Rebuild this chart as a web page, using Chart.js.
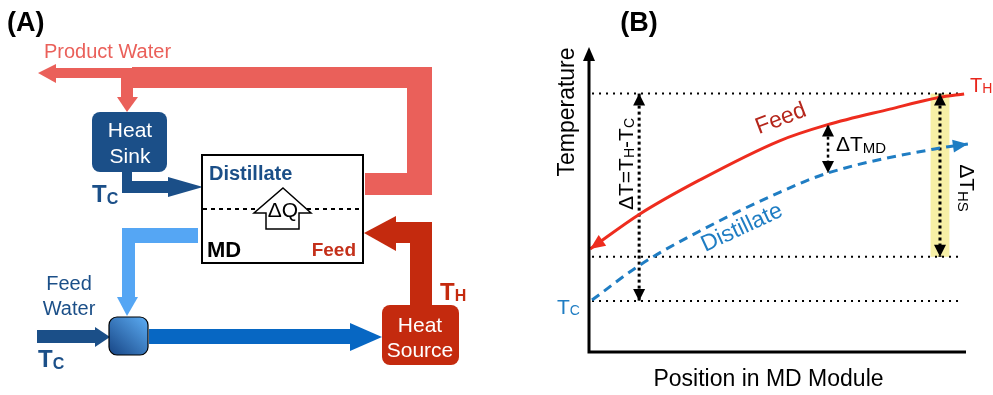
<html>
<head>
<meta charset="utf-8" />
<script src="https://cdn.jsdelivr.net/npm/chart.js@4.4.0/dist/chart.umd.min.js"></script>
<title>MD temperature profile</title>
<style>body { margin: 0; background: #fff; }</style>
</head>
<body>
<canvas id="chart" width="993" height="395"></canvas>
<script>
// position along the MD module (0..100) and temperature (0..100, arbitrary units)
const feedPos = [0.3, 13.5, 29.4, 50.4, 63.1, 79.8, 92.8, 99.5];
const feedTemp = [33.9, 45.4, 56.6, 69.4, 74.7, 79.9, 83.7, 84.9];
const distPos = [0.8, 13.5, 29.4, 50.7, 63.4, 93.1, 100.5];
const distTemp = [17.1, 28.6, 39.8, 52.6, 58.9, 67.1, 68.4];

// reference levels (dotted lines)
const levelTH = 85;
const levelFeedOut = 31.3;
const levelTC = 16.8;
const levelSpan = [0.8, 99.2];

// vertical difference markers
const dTPos = 13.3;
const dTmdPos = 63.4;
const dTmd = [74.8, 58.9];
const dThsPos = 93.1;

const RED = "#ee2c1e", BLUE = "#1f7dc3";
const FONT = "'Liberation Sans', Arial, sans-serif";

function pts(xs, ys) { return xs.map((x, i) => ({ x: x, y: ys[i] })); }
function hline(v) { return [{ x: levelSpan[0], y: v }, { x: levelSpan[1], y: v }]; }
function vline(x, a, b) { return [{ x: x, y: a }, { x: x, y: b }]; }

// text with subscripts: parts = [text, font, dy]
function subText(ctx, x, y, parts, align) {
    let w = 0;
    parts.forEach(p => { ctx.font = p[1]; w += ctx.measureText(p[0]).width; });
    let cx = align == "center" ? x - w / 2 : (align == "right" ? x - w : x);
    ctx.textAlign = "left";
    parts.forEach(p => {
        ctx.font = p[1];
        ctx.fillText(p[0], cx, y + (p[2] || 0));
        cx += ctx.measureText(p[0]).width;
    });
}

function tri(ctx, a, b, c, col) {
    ctx.fillStyle = col;
    ctx.beginPath(); ctx.moveTo(a[0], a[1]); ctx.lineTo(b[0], b[1]); ctx.lineTo(c[0], c[1]); ctx.closePath(); ctx.fill();
}

function rrect(ctx, x, y, w, h, r, col) {
    ctx.fillStyle = col;
    ctx.beginPath(); ctx.roundRect(x, y, w, h, r); ctx.fill();
}

function arrowHead(ctx, tx, ty, ang, len, half, col) {
    let bx = tx - Math.cos(ang) * len, by = ty - Math.sin(ang) * len;
    let nx = -Math.sin(ang) * half, ny = Math.cos(ang) * half;
    tri(ctx, [tx, ty], [bx + nx, by + ny], [bx - nx, by - ny], col);
}

// panel (A): process schematic
function drawSchematic(ctx) {
    const salmon = "#ea605a", dblue = "#1b4f88", dred = "#c42a0e", lblue = "#55a6f4", mblue = "#0767c3";
    ctx.save();
    ctx.textBaseline = "alphabetic";
    ctx.fillStyle = "#000";
    ctx.font = "bold 27px " + FONT;
    ctx.textAlign = "left";
    ctx.fillText("(A)", 7, 31);

    ctx.fillStyle = salmon;
    ctx.font = "20px " + FONT;
    ctx.fillText("Product Water", 44, 58);
    ctx.fillRect(54, 68, 80, 10);
    ctx.fillRect(132, 67, 300, 21);
    tri(ctx, [38, 73], [56, 64], [56, 83], salmon);
    ctx.fillRect(407, 67, 25, 128);
    ctx.fillRect(365, 173, 67, 22);
    ctx.fillRect(121, 77, 12, 21);
    tri(ctx, [117, 97], [138, 97], [127, 112], salmon);

    // heat sink
    rrect(ctx, 92, 112, 75, 60, 8, dblue);
    ctx.fillStyle = "#fff";
    ctx.font = "21px " + FONT;
    ctx.textAlign = "center";
    ctx.fillText("Heat", 130, 137);
    ctx.fillText("Sink", 130, 163);
    ctx.fillStyle = dblue;
    ctx.fillRect(122, 171, 10, 22);
    ctx.fillRect(122, 181, 48, 12);
    tri(ctx, [168, 177], [168, 197], [203, 187], dblue);
    subText(ctx, 92, 202, [["T", "bold 24px " + FONT], ["C", "bold 16px " + FONT, 2]], "left");

    // MD module
    ctx.strokeStyle = "#000";
    ctx.lineWidth = 2;
    ctx.strokeRect(202, 155, 161, 108);
    ctx.save();
    ctx.setLineDash([4, 4]);
    ctx.beginPath(); ctx.moveTo(203, 209); ctx.lineTo(362, 209); ctx.stroke();
    ctx.restore();
    ctx.fillStyle = "#fff";
    ctx.lineWidth = 1.5;
    ctx.beginPath();
    [[283, 188], [311, 213], [299, 213], [299, 229], [266, 229], [266, 213], [254, 213]].forEach((p, i) => i ? ctx.lineTo(p[0], p[1]) : ctx.moveTo(p[0], p[1]));
    ctx.closePath(); ctx.fill(); ctx.stroke();
    ctx.fillStyle = "#000";
    ctx.font = "21px " + FONT;
    ctx.textAlign = "center";
    ctx.fillText("\u0394Q", 283, 217);
    ctx.textAlign = "left";
    ctx.fillStyle = dblue;
    ctx.font = "bold 20px " + FONT;
    ctx.fillText("Distillate", 209, 180);
    ctx.fillStyle = "#000";
    ctx.font = "bold 22px " + FONT;
    ctx.fillText("MD", 207, 257);
    ctx.fillStyle = "#c4301a";
    ctx.font = "bold 19px " + FONT;
    ctx.textAlign = "right";
    ctx.fillText("Feed", 356, 256);

    // heat source loop
    ctx.fillStyle = dred;
    ctx.fillRect(410, 222, 22, 84);
    ctx.fillRect(394, 222, 38, 21);
    tri(ctx, [364, 233], [396, 216], [396, 251], dred);
    subText(ctx, 440, 300, [["T", "bold 24px " + FONT], ["H", "bold 16px " + FONT, 1]], "left");
    rrect(ctx, 382, 305, 77, 60, 8, dred);
    ctx.fillStyle = "#fff";
    ctx.font = "21px " + FONT;
    ctx.textAlign = "center";
    ctx.fillText("Heat", 420, 332);
    ctx.fillText("Source", 420, 357);

    // recycle to mixer
    ctx.fillStyle = lblue;
    ctx.fillRect(122, 228, 76, 15);
    ctx.fillRect(122, 228, 13, 71);
    tri(ctx, [117, 297], [138, 297], [127, 316], lblue);

    // feed water in
    ctx.fillStyle = dblue;
    ctx.font = "20px " + FONT;
    ctx.fillText("Feed", 69, 290);
    ctx.fillText("Water", 69, 315);
    ctx.fillRect(37, 330, 60, 13);
    tri(ctx, [95, 327], [95, 347], [110, 337], dblue);
    subText(ctx, 38, 367, [["T", "bold 24px " + FONT], ["C", "bold 16px " + FONT, 2]], "left");

    // mixer
    let g = ctx.createLinearGradient(112, 354, 146, 318);
    g.addColorStop(0, "#1a4a8a");
    g.addColorStop(1, "#5aa9f0");
    ctx.fillStyle = g;
    ctx.beginPath(); ctx.roundRect(109, 317, 39, 38, 8); ctx.fill();
    ctx.strokeStyle = "#000"; ctx.lineWidth = 1.2; ctx.stroke();

    ctx.fillStyle = mblue;
    ctx.fillRect(149, 329, 203, 15);
    tri(ctx, [350, 323], [350, 351], [382, 337], mblue);
    ctx.restore();
}

const overlay = {
    id: "overlay",
    beforeDraw(chart) {
        const ctx = chart.ctx;
        ctx.save();
        ctx.fillStyle = "#fff";
        ctx.fillRect(0, 0, chart.width, chart.height);
        ctx.restore();
        drawSchematic(ctx);
    },
    beforeDatasetsDraw(chart) {
        const ctx = chart.ctx, x = chart.scales.x, y = chart.scales.y;
        // heat source band
        ctx.save();
        ctx.fillStyle = "#f7f0a6";
        let l = x.getPixelForValue(dThsPos - 2.5), r = x.getPixelForValue(dThsPos + 2.5);
        let t = y.getPixelForValue(levelTH), b = y.getPixelForValue(levelFeedOut);
        ctx.fillRect(l, t, r - l, b - t);
        ctx.restore();
    },
    afterDatasetsDraw(chart) {
        const ctx = chart.ctx, x = chart.scales.x, y = chart.scales.y, a = chart.chartArea;
        ctx.save();
        // axes
        ctx.strokeStyle = "#000";
        ctx.lineWidth = 3;
        ctx.beginPath();
        ctx.moveTo(a.left, a.top + 10); ctx.lineTo(a.left, a.bottom); ctx.lineTo(a.right, a.bottom);
        ctx.stroke();
        tri(ctx, [a.left, a.top - 1], [a.left - 6, a.top + 13], [a.left + 6, a.top + 13], "#000");

        // arrowheads on curves
        const fm = chart.getDatasetMeta(0).data, dm = chart.getDatasetMeta(1).data;
        let f0 = fm[0], f1 = fm[1];
        arrowHead(ctx, f0.x, f0.y, Math.atan2(f0.y - f1.y, f0.x - f1.x), 15, 6.5, RED);
        let d1 = dm[dm.length - 1], d0 = dm[dm.length - 2];
        arrowHead(ctx, d1.x, d1.y, Math.atan2(d1.y - d0.y, d1.x - d0.x), 15, 6.5, BLUE);

        // arrowheads on the difference markers
        const vh = (px, top, bot) => {
            let X = x.getPixelForValue(px);
            arrowHead(ctx, X, y.getPixelForValue(top), -Math.PI / 2, 12, 6, "#000");
            arrowHead(ctx, X, y.getPixelForValue(bot), Math.PI / 2, 12, 6, "#000");
        };
        vh(dTPos, levelTH, levelTC);
        vh(dTmdPos, dTmd[0], dTmd[1]);
        vh(dThsPos, levelTH, levelFeedOut);

        // labels
        ctx.textBaseline = "alphabetic";
        ctx.fillStyle = "#000";
        ctx.font = "bold 27px " + FONT;
        ctx.textAlign = "center";
        ctx.fillText("(B)", 639, 31);
        ctx.font = "23px " + FONT;
        ctx.fillText("Position in MD Module", (a.left + a.right) / 2 - 9, 386);
        ctx.save();
        ctx.translate(574, 112); ctx.rotate(-Math.PI / 2);
        ctx.fillText("Temperature", 0, 0);
        ctx.restore();

        ctx.fillStyle = "#e8261c";
        subText(ctx, 970, y.getPixelForValue(levelTH) - 2, [["T", "20px " + FONT], ["H", "14px " + FONT, 1]], "left");
        ctx.fillStyle = BLUE;
        subText(ctx, 557, y.getPixelForValue(levelTC) + 13, [["T", "21px " + FONT], ["C", "14px " + FONT, 1]], "left");

        ctx.fillStyle = "#000";
        ctx.save();
        ctx.translate(633, 164); ctx.rotate(-Math.PI / 2);
        subText(ctx, 0, 0, [["\u0394T=T", "21px " + FONT], ["H", "14px " + FONT, 1], ["-T", "21px " + FONT], ["C", "14px " + FONT, 1]], "center");
        ctx.restore();
        subText(ctx, 836, 151, [["\u0394T", "21px " + FONT], ["MD", "15px " + FONT, 2]], "left");
        ctx.save();
        ctx.translate(960, 188); ctx.rotate(Math.PI / 2);
        subText(ctx, 0, 0, [["\u0394T", "21px " + FONT], ["HS", "15px " + FONT, 2]], "center");
        ctx.restore();

        ctx.textBaseline = "middle";
        ctx.textAlign = "center";
        ctx.fillStyle = "#b5261b";
        ctx.font = "23px " + FONT;
        ctx.save();
        ctx.translate(781, 119); ctx.rotate(-21 * Math.PI / 180);
        ctx.fillText("Feed", 0, 0);
        ctx.restore();
        ctx.fillStyle = BLUE;
        ctx.save();
        ctx.translate(742, 228); ctx.rotate(-25 * Math.PI / 180);
        ctx.fillText("Distillate", 0, 0);
        ctx.restore();
        ctx.restore();
    }
};

const dotted = { borderColor: "#000", borderWidth: 2, borderDash: [2, 5], pointRadius: 0 };
const marker = { borderColor: "#000", borderWidth: 3, borderDash: [3, 3], pointRadius: 0 };

new Chart(document.getElementById("chart"), {
    type: "line",
    data: {
        datasets: [
            { label: "Feed", data: pts(feedPos, feedTemp), borderColor: RED, borderWidth: 3, pointRadius: 0, cubicInterpolationMode: "monotone", clip: false },
            { label: "Distillate", data: pts(distPos, distTemp), borderColor: BLUE, borderWidth: 3, borderDash: [9, 6], pointRadius: 0, cubicInterpolationMode: "monotone", clip: false },
            Object.assign({ label: "dT", data: vline(dTPos, levelTH, levelTC) }, marker),
            Object.assign({ label: "dTmd", data: vline(dTmdPos, dTmd[0], dTmd[1]) }, marker, { borderWidth: 2.5 }),
            Object.assign({ label: "dThs", data: vline(dThsPos, levelTH, levelFeedOut) }, marker),
            Object.assign({ label: "TH", data: hline(levelTH) }, dotted),
            Object.assign({ label: "out", data: hline(levelFeedOut) }, dotted),
            Object.assign({ label: "TC", data: hline(levelTC) }, dotted),
        ],
    },
    options: {
        responsive: false,
        animation: false,
        layout: { padding: { left: 589, right: 27, top: 48, bottom: 43 } },
        scales: {
            x: { type: "linear", min: 0, max: 100, display: false },
            y: { min: 0, max: 100, display: false },
        },
        plugins: { legend: { display: false }, tooltip: { enabled: false } },
    },
    plugins: [overlay],
});
</script>
</body>
</html>
